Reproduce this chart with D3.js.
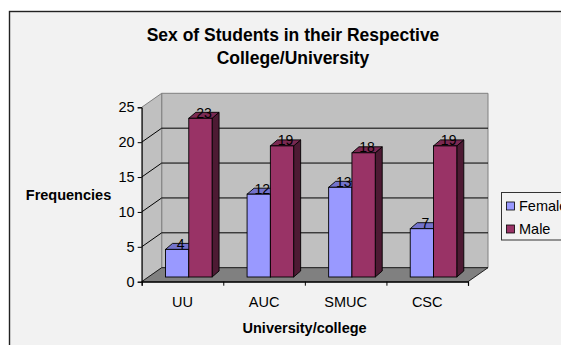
<!DOCTYPE html>
<html>
<head>
<meta charset="utf-8">
<script src="https://cdn.jsdelivr.net/npm/d3@7"></script>
<style>
  html, body { margin: 0; padding: 0; background: #ffffff; }
  svg { display: block; font-family: Arial, "Liberation Sans", sans-serif; }
</style>
</head>
<body>
<svg id="chart" width="561" height="345"></svg>
<script>
// Student counts by institution and sex
const categories = ["UU", "AUC", "SMUC", "CSC"];
const seriesNames = ["Female", "Male"];
const female = [4, 12, 13, 7];
const male = [23, 19, 18, 19];
const yTicks = [0, 5, 10, 15, 20, 25];

const colors = {
  Female: { front: "#9999ff", top: "#7373cc", side: "#4d4d80" },
  Male:   { front: "#993366", top: "#7a2952", side: "#4d1a33" }
};

const svg = d3.select("#chart");

// Chart frame
svg.append("rect")
  .attr("x", 9.5).attr("y", 11.5)
  .attr("width", 600).attr("height", 400)
  .attr("fill", "#f2f2f2")
  .attr("stroke", "#222").attr("stroke-width", 1.4);

// Geometry of the 3D box
const x0Left = 141.7, x0Right = 468;
const depth = { dx: 20, dy: -14 };
const bar3d = { dx: 7, dy: -6 };
const barPlane = { dx: 6.3, dy: -4.4 };

const y = d3.scaleLinear().domain([0, 25]).range([281.7, 107.3]);
const yBar = d3.scaleLinear().domain([0, 25]).range([277, 104.5]);

const x0 = d3.scaleBand().domain(categories).range([x0Left, x0Right]).padding(0);
const x1 = d3.scaleBand().domain(seriesNames)
  .range([17.5, x0.bandwidth() - 17.5]).padding(0);

const poly = pts => pts.map(p => p.join(",")).join(" ");

// Back wall
const bx0 = x0Left + depth.dx, bx1 = x0Right + depth.dx;
svg.append("polygon")
  .attr("points", poly([[bx0, y(25) + depth.dy], [bx1, y(25) + depth.dy],
                        [bx1, y(0) + depth.dy], [bx0, y(0) + depth.dy]]))
  .attr("fill", "#c0c0c0").attr("stroke", "#808080").attr("stroke-width", 1);

// Side wall
svg.append("polygon")
  .attr("points", poly([[x0Left, y(25)], [bx0, y(25) + depth.dy],
                        [bx0, y(0) + depth.dy], [x0Left, y(0)]]))
  .attr("fill", "#c0c0c0").attr("stroke", "#808080").attr("stroke-width", 1);

// Floor
svg.append("polygon")
  .attr("points", poly([[x0Left, y(0)], [bx0, y(0) + depth.dy],
                        [bx1, y(0) + depth.dy], [x0Right, y(0)]]))
  .attr("fill", "#808080").attr("stroke", "#000").attr("stroke-width", 0.8);

// Gridlines on back and side walls
const grid = yTicks.filter(t => t > 0 && t < 25);
svg.append("g").selectAll("path").data(grid).join("path")
  .attr("d", t => `M${x0Left},${y(t)}L${bx0},${y(t) + depth.dy}L${bx1},${y(t) + depth.dy}`)
  .attr("fill", "none").attr("stroke", "#000").attr("stroke-width", 1);

// Bars
const rows = categories.map((c, i) => ({ cat: c, values: [
  { s: "Female", v: female[i] }, { s: "Male", v: male[i] }] }));

const gBars = svg.append("g");
rows.forEach(r => {
  r.values.forEach(d => {
    const xl = x0(r.cat) + x1(d.s) + barPlane.dx;
    const xr = xl + x1.bandwidth();
    const yt = yBar(d.v), yb = yBar(0);
    const c = colors[d.s];
    const g = gBars.append("g");
    // side face
    g.append("polygon")
      .attr("points", poly([[xr, yt], [xr + bar3d.dx, yt + bar3d.dy],
                            [xr + bar3d.dx, yb + bar3d.dy], [xr, yb]]))
      .attr("fill", c.side).attr("stroke", "#000").attr("stroke-width", 0.9);
    // top face
    g.append("polygon")
      .attr("points", poly([[xl, yt], [xl + bar3d.dx, yt + bar3d.dy],
                            [xr + bar3d.dx, yt + bar3d.dy], [xr, yt]]))
      .attr("fill", c.top).attr("stroke", "#000").attr("stroke-width", 0.9);
    // front face
    g.append("rect")
      .attr("x", xl).attr("y", yt)
      .attr("width", xr - xl).attr("height", yb - yt)
      .attr("fill", c.front).attr("stroke", "#000").attr("stroke-width", 0.9);
  });
});

// Value labels
rows.forEach(r => {
  r.values.forEach(d => {
    const xl = x0(r.cat) + x1(d.s) + barPlane.dx;
    svg.append("text")
      .attr("x", xl + x1.bandwidth() / 2 + bar3d.dx / 2)
      .attr("y", yBar(d.v) - 0.5)
      .attr("text-anchor", "middle")
      .attr("font-size", 14).attr("fill", "#000")
      .text(d.v);
  });
});

// Value axis
const yAxis = d3.axisLeft(y).tickValues(yTicks).tickSize(4).tickPadding(3);
const gy = svg.append("g").attr("transform", `translate(${x0Left},0)`).call(yAxis);
gy.select(".domain").attr("stroke", "#000");
gy.selectAll("text").attr("font-size", 14.5).attr("fill", "#000")
  .attr("font-family", "Arial, 'Liberation Sans', sans-serif");

// Category axis
const xAxis = d3.axisBottom(d3.scaleLinear().domain([0, categories.length]).range([x0Left, x0Right]))
  .tickValues(d3.range(categories.length + 1)).tickSize(4).tickFormat("");
const gx = svg.append("g").attr("transform", `translate(0,${y(0)})`).call(xAxis);
gx.select(".domain").attr("stroke", "#000").attr("stroke-width", 1.2);

svg.append("g").selectAll("text").data(categories).join("text")
  .attr("x", c => x0(c) + x0.bandwidth() / 2)
  .attr("y", 306.5)
  .attr("text-anchor", "middle")
  .attr("font-size", 14.5).attr("fill", "#000")
  .text(c => c);

// Titles
const title = svg.append("text").attr("text-anchor", "middle")
  .attr("font-size", 17.5).attr("font-weight", "bold").attr("fill", "#000");
title.append("tspan").attr("x", 293).attr("y", 40.7).text("Sex of Students in their Respective");
title.append("tspan").attr("x", 293).attr("y", 64.3).text("College/University");

svg.append("text")
  .attr("x", 68.5).attr("y", 200)
  .attr("text-anchor", "middle")
  .attr("font-size", 14.5).attr("font-weight", "bold").attr("fill", "#000")
  .text("Frequencies");

svg.append("text")
  .attr("x", 304.6).attr("y", 333)
  .attr("text-anchor", "middle")
  .attr("font-size", 14.5).attr("font-weight", "bold").attr("fill", "#000")
  .text("University/college");

// Legend
const legend = svg.append("g");
legend.append("rect")
  .attr("x", 501.5).attr("y", 192.5).attr("width", 80).attr("height", 47.5)
  .attr("fill", "#f2f2f2").attr("stroke", "#333").attr("stroke-width", 1);
seriesNames.forEach((s, i) => {
  const yy = 202 + i * 23;
  legend.append("rect")
    .attr("x", 506.5).attr("y", yy).attr("width", 8).attr("height", 8)
    .attr("fill", colors[s].front).attr("stroke", "#000").attr("stroke-width", 0.8);
  legend.append("text")
    .attr("x", 519).attr("y", yy + 9)
    .attr("font-size", 14.5).attr("fill", "#000")
    .text(s);
});
</script>
</body>
</html>
